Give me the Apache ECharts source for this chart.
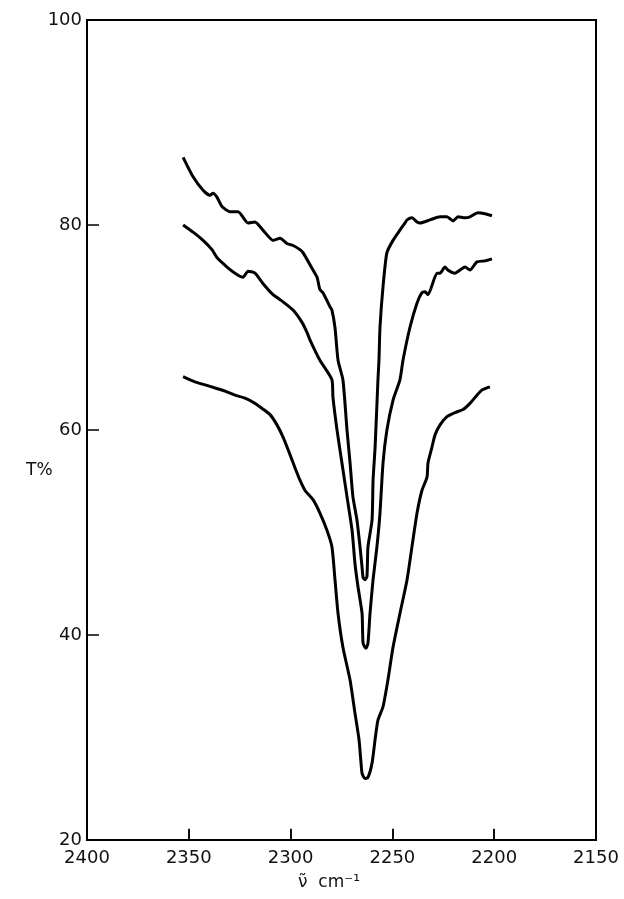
<!DOCTYPE html>
<html>
<head>
<meta charset="utf-8">
<script src="https://cdn.jsdelivr.net/npm/echarts@6/dist/echarts.min.js"></script>
<style>
html,body{margin:0;padding:0;background:#fff;}
#c{width:624px;height:899px;}
</style>
</head>
<body>
<div id="c"></div>
<script>
// Tick labels
var xTicks = [2400, 2350, 2300, 2250, 2200, 2150];
var yTicks = [20, 40, 60, 80, 100];

// Upper trace (wavenumber, T%)
var waveA = [2352.8,2347.9,2343.0,2339.6,2338.1,2336.1,2333.7,2329.8,2325.8,2320.9,2317.5,2313.6,2308.6,2305.2,2301.8,2298.8,2295.4,2293.9,2289.0,2287.0,2285.6,2284.1,2280.6,2279.7,2278.2,2276.7,2274.3,2272.3,2270.8,2269.4,2267.4,2265.9,2264.9,2264.4,2263.5,2262.5,2262.0,2260.0,2259.5,2258.5,2257.1,2256.6,2256.1,2254.6,2252.7,2249.7,2246.3,2243.8,2242.8,2240.4,2237.9,2236.4,2231.5,2226.6,2223.2,2220.2,2217.8,2214.3,2211.9,2208.0,2204.5,2201.1];
var tA    = [86.6,84.7,83.4,82.9,83.1,82.7,81.8,81.3,81.3,80.2,80.3,79.5,78.5,78.7,78.2,78.0,77.6,77.3,75.6,74.9,73.7,73.4,72.0,71.7,70.0,66.8,64.9,60.0,56.8,53.5,51.2,48.6,46.6,45.6,45.4,45.7,48.6,51.2,55.1,58.3,64.9,66.8,70.0,74.0,77.3,78.5,79.5,80.2,80.5,80.7,80.3,80.2,80.5,80.8,80.8,80.4,80.8,80.7,80.8,81.2,81.1,80.9];

// Middle trace
var waveB = [2352.8,2347.9,2343.0,2338.6,2336.1,2331.2,2327.3,2323.4,2320.9,2317.5,2313.6,2308.6,2303.7,2298.8,2294.4,2291.9,2290.5,2285.6,2279.7,2279.2,2277.2,2274.8,2272.3,2269.8,2268.4,2266.9,2264.9,2264.4,2263.0,2262.0,2261.0,2259.5,2257.6,2256.1,2254.6,2252.7,2249.7,2246.3,2244.8,2241.4,2237.9,2235.5,2234.0,2232.5,2228.1,2226.6,2224.2,2222.7,2219.3,2214.3,2211.9,2208.5,2204.5,2201.1];
var tB    = [80.0,79.3,78.5,77.6,76.8,75.9,75.3,74.9,75.5,75.3,74.3,73.2,72.5,71.7,70.5,69.5,68.8,66.8,64.9,63.2,60.0,56.8,53.5,50.2,47.0,44.7,42.1,39.2,38.7,39.2,42.1,45.4,48.6,51.9,56.8,60.0,62.9,64.9,66.8,70.0,72.4,73.4,73.5,73.2,75.3,75.3,75.9,75.6,75.3,75.9,75.6,76.4,76.5,76.7];

// Lower trace
var waveC = [2352.8,2347.0,2342.0,2337.1,2332.2,2327.3,2322.4,2317.5,2314.0,2310.1,2306.7,2303.7,2300.3,2297.8,2295.4,2292.9,2289.0,2285.6,2282.1,2279.7,2278.2,2276.7,2274.3,2270.8,2268.4,2266.4,2265.4,2264.9,2263.5,2262.0,2260.0,2258.5,2257.1,2254.6,2252.2,2249.7,2246.3,2242.8,2240.4,2237.9,2235.5,2233.0,2232.5,2230.6,2229.1,2226.6,2223.2,2219.3,2215.3,2211.9,2208.5,2206.0,2202.1];
var tC    = [65.2,64.7,64.4,64.1,63.8,63.4,63.1,62.6,62.1,61.5,60.5,59.3,57.6,56.3,55.1,54.1,53.2,51.9,50.2,48.6,45.4,42.1,38.8,35.6,32.4,29.8,27.5,26.5,26.0,26.1,27.5,29.8,31.7,33.0,35.6,38.8,42.1,45.4,48.6,51.9,54.1,55.4,56.8,58.3,59.5,60.5,61.3,61.7,62.0,62.6,63.4,63.9,64.2];

function pairs(xs, ys) { return xs.map(function (x, i) { return [x, ys[i]]; }); }

var FONT = 'DejaVu Sans';
var chart = echarts.init(document.getElementById('c'), null, {renderer: 'canvas'});
var lineSeries = function (xs, ys) {
  return {
    type: 'line', data: pairs(xs, ys), showSymbol: false, symbol: 'none',
    smooth: 0.2, lineStyle: {color: '#000', width: 3}, silent: true
  };
};
// inner tick marks on the wavenumber axis (drawn as short data-space segments)
var tickSeries = {
  type: 'line', data: [], silent: true, symbol: 'none',
  markLine: {
    silent: true, symbol: 'none', animation: false, label: {show: false},
    lineStyle: {color: '#000', width: 1.5, type: 'solid'},
    data: xTicks.slice(1, -1).map(function (v) { return [{coord: [v, yTicks[0]]}, {coord: [v, yTicks[0] + 1.1]}]; })
  }
};
chart.setOption({
  backgroundColor: '#fff',
  animation: false,
  grid: {left: 87, top: 20, width: 509, height: 820, show: true, borderColor: '#000', borderWidth: 2, backgroundColor: 'transparent'},
  xAxis: {
    type: 'value', min: xTicks[xTicks.length - 1], max: xTicks[0], interval: 50, inverse: true,
    axisLine: {show: true, onZero: false, lineStyle: {color: '#000', width: 2}},
    axisTick: {show: true, inside: true, length: 11, lineStyle: {color: '#000', width: 1.5}},
    splitLine: {show: false},
    axisLabel: {color: '#111', fontSize: 18, fontFamily: FONT, margin: 9, showMinLabel: true, showMaxLabel: true,
      formatter: function (v) { return String(v); }}
  },
  yAxis: {
    type: 'value', min: yTicks[0], max: yTicks[yTicks.length - 1], interval: 20,
    axisLine: {show: true, onZero: false, lineStyle: {color: '#000', width: 2}},
    axisTick: {show: true, inside: true, length: 12, lineStyle: {color: '#000', width: 1.5}},
    splitLine: {show: false},
    axisLabel: {color: '#111', fontSize: 18, fontFamily: FONT, margin: 5, showMinLabel: true, showMaxLabel: true,
      formatter: function (v) { return String(v); }}
  },
  graphic: [
    {type: 'text', left: 26, top: 462, style: {text: 'T%', fontSize: 17, fontFamily: FONT, fill: '#111'}},
    {type: 'text', left: 298, top: 874, style: {text: 'ν̃  cm⁻¹', fontSize: 17, fontFamily: FONT, fill: '#111'}}
  ],
  series: [lineSeries(waveA, tA), lineSeries(waveB, tB), lineSeries(waveC, tC), tickSeries]
});
</script>
</body>
</html>
